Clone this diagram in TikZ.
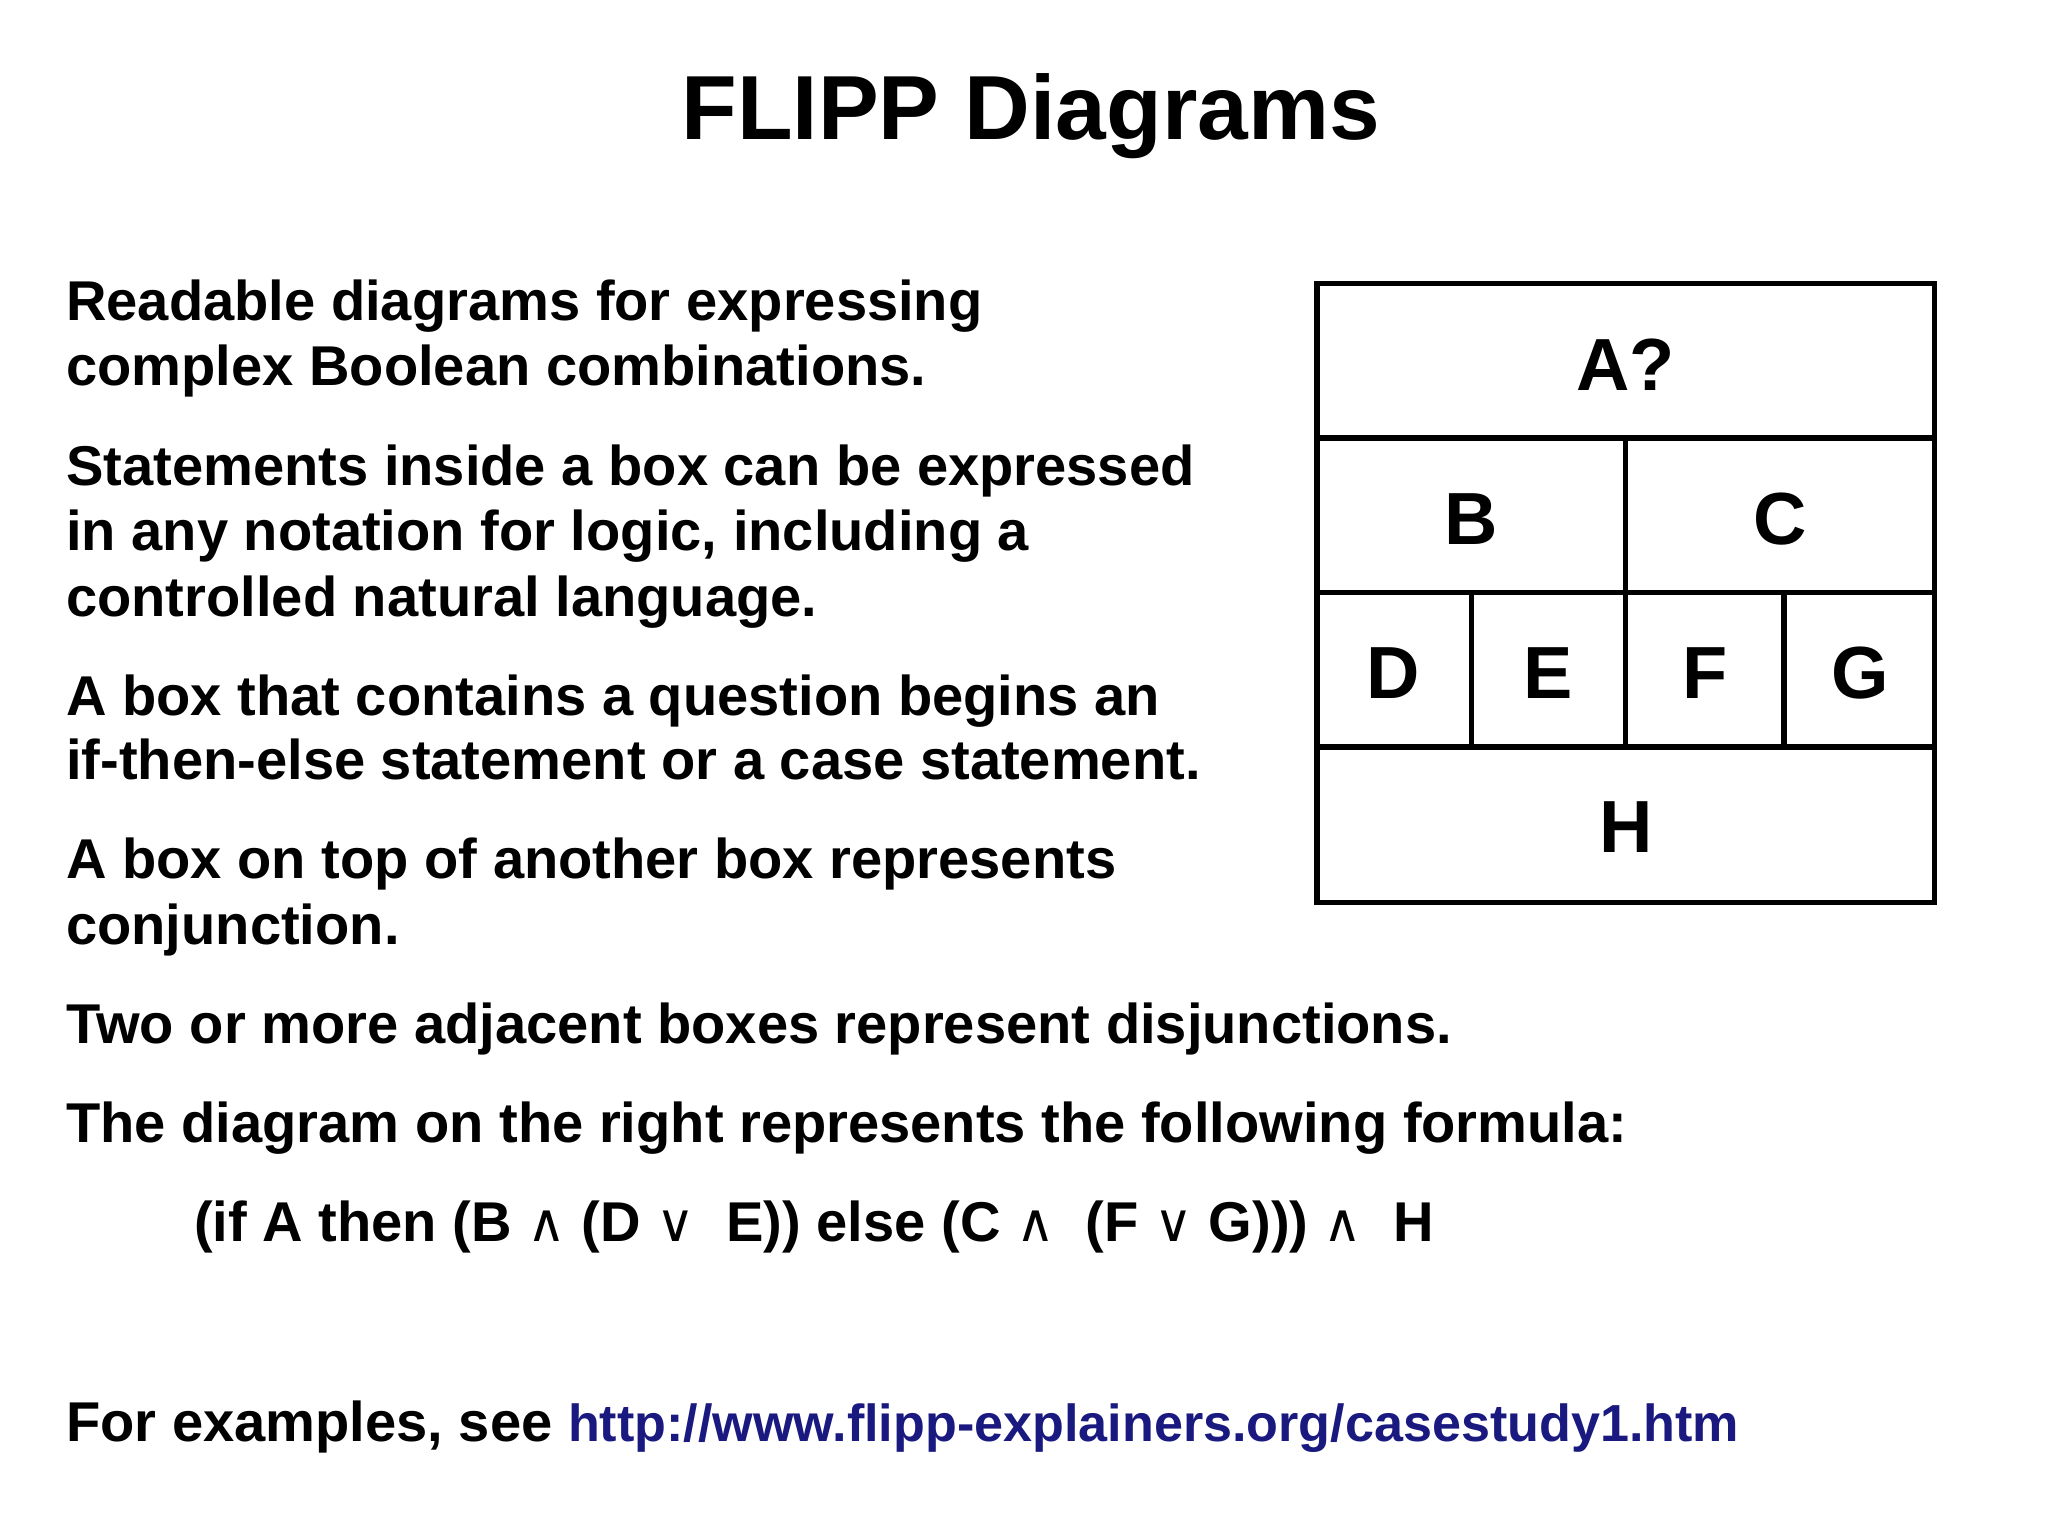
\documentclass[tikz,border=0pt]{standalone}
\usepackage{fontspec}
\setmainfont{Liberation Sans}
\newfontfamily\symf{DejaVu Sans}
\newcommand{\myop}[1]{{\symf\mdseries\fontsize{40}{46}\selectfont #1}}
\begin{document}
\begin{tikzpicture}[x=1pt,y=-1pt,
  txt/.style={anchor=base west,inner sep=0pt,font=\fontsize{42.5}{50}\selectfont\bfseries},
  lab/.style={font=\fontsize{56}{60}\selectfont\bfseries,inner sep=0pt},
  cell/.style={line width=4pt,draw=black}]
\useasboundingbox (0,0) rectangle (1552,1163);
\fill[white] (0,0) rectangle (1552,1163);
\node[font=\fontsize{69}{72}\selectfont\bfseries,anchor=base] (title) at (781,106) {FLIPP Diagrams};
\node[txt] (l1) at (50,243) {Readable diagrams for expressing};
\node[txt] (l2) at (50,292) {complex Boolean combinations.};
\node[txt] (l3) at (50,368) {Statements inside a box can be expressed};
\node[txt] (l4) at (50,417) {in any notation for logic, including a};
\node[txt] (l5) at (50,467) {controlled natural language.};
\node[txt] (l6) at (50,542) {A box that contains a question begins an};
\node[txt] (l7) at (50,591) {if-then-else statement or a case statement.};
\node[txt] (l8) at (50,666) {A box on top of another box represents};
\node[txt] (l9) at (50,716) {conjunction.};
\node[txt] (l10) at (50,791) {Two or more adjacent boxes represent disjunctions.};
\node[txt] (l11) at (50,866) {The diagram on the right represents the following formula:};
\node[txt] (l12) at (147,941) {(if A then (B \myop{∧} (D \myop{∨}\ \ E)) else (C \myop{∧}\ \ (F \myop{∨} G))) \myop{∧}\ \ H};
\node[txt] (l13) at (50,1092) {For examples, see {\fontsize{39.5}{46}\selectfont\textcolor[rgb]{0.1,0.1,0.5}{http://www.flipp-explainers.org/casestudy1.htm}}};
% boxes
\draw[cell] (998,215) rectangle (1466,684);
\draw[cell] (998,332) -- (1466,332);
\draw[cell] (998,449) -- (1466,449);
\draw[cell] (998,566) -- (1466,566);
\draw[cell] (1232,332) -- (1232,566);
\draw[cell] (1115,449) -- (1115,566);
\draw[cell] (1352,449) -- (1352,566);
\node[lab] (A) at (1232,276) {A?};
\node[lab] (B) at (1115,393) {B};
\node[lab] (C) at (1349,393) {C};
\node[lab] (D) at (1056,510) {D};
\node[lab] (E) at (1173,510) {E};
\node[lab] (F) at (1292,510) {F};
\node[lab] (G) at (1410,510) {G};
\node[lab] (H) at (1232,627) {H};
\end{tikzpicture}
\end{document}
